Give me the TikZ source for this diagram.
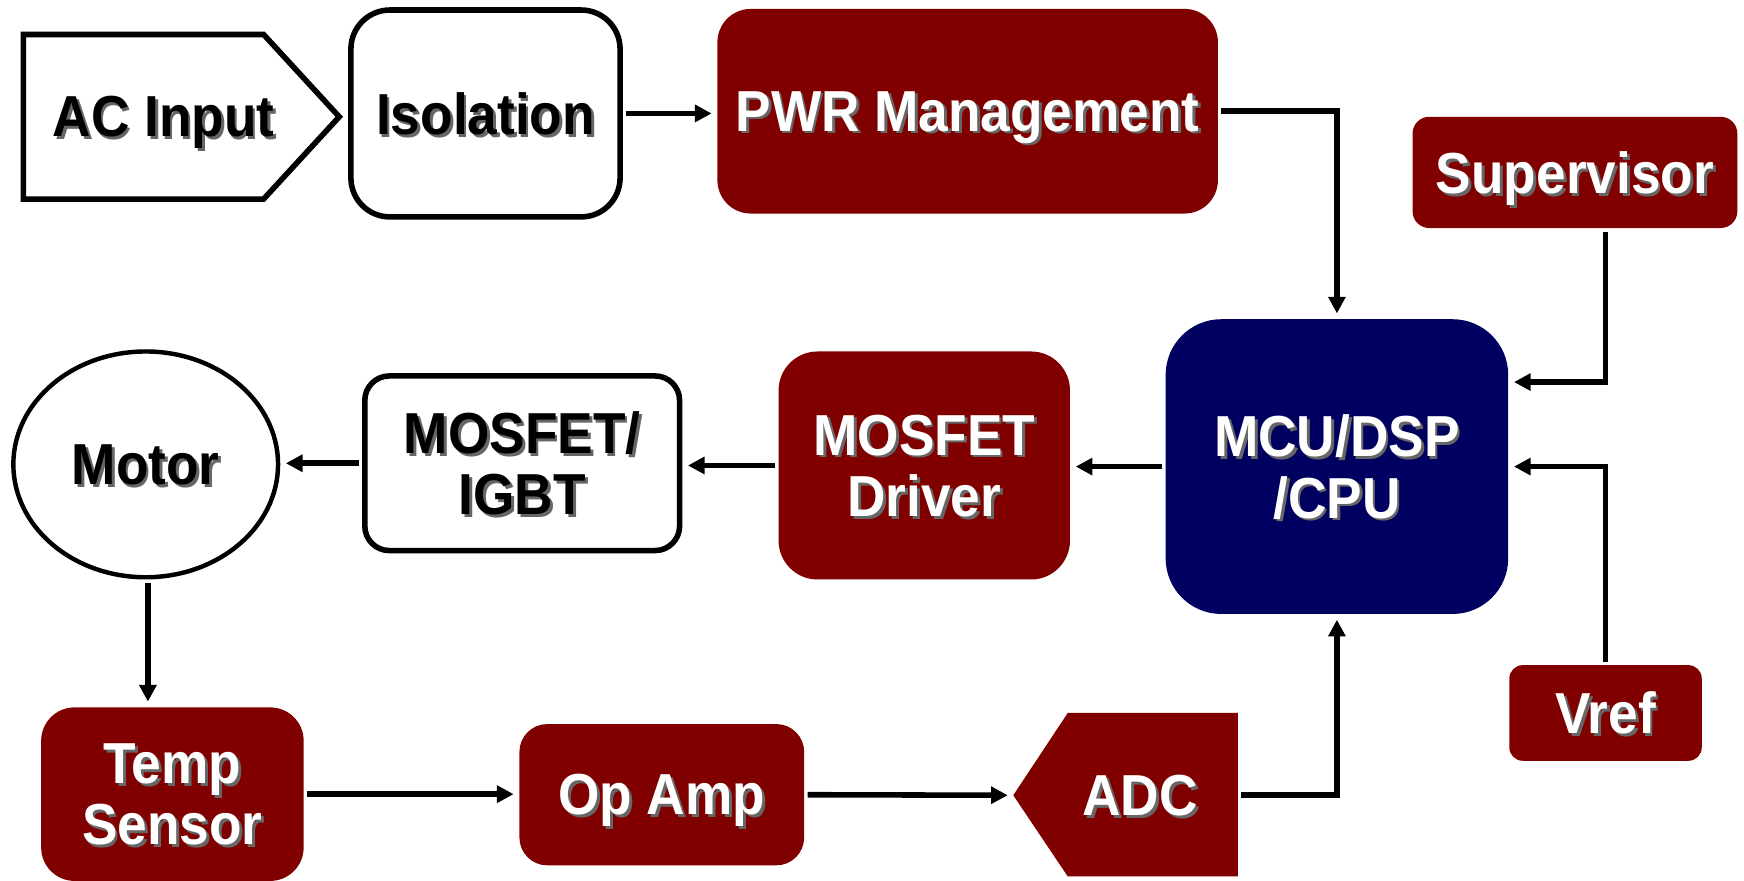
\documentclass[tikz,border=0pt]{standalone}
\usepackage{fontspec}
\setmainfont{Liberation Sans}[FakeStretch=0.92]
\usetikzlibrary{arrows.meta, shapes.geometric}
\usepackage{xcolor}
\definecolor{drvred}{HTML}{800000}
\definecolor{cpunavy}{HTML}{000060}
\newcommand{\shtxt}[1]{\makebox[0pt][l]{\kern2.5pt\raisebox{-2.5pt}{\textcolor{black!60}{#1}}}#1}

\begin{document}
\begin{tikzpicture}[x=1pt, y=-1pt,
    lbl/.style={font=\fontsize{52}{55}\selectfont\bfseries, align=center, inner sep=0pt, text depth=0pt},
    outline/.style={draw=black, line width=5pt, fill=white},
    openbox/.style={lbl, outline, rectangle, rounded corners=30pt},
    redbox/.style={lbl, rectangle, fill=drvred, text=white, rounded corners=30pt},
    cpubox/.style={lbl, rectangle, fill=cpunavy, text=white, rounded corners=50pt},
    arrow/.style={-{Triangle[length=15pt, width=15pt]}, line width=5pt, draw=black, shorten <=3pt, shorten >=5pt}
  ]
  \useasboundingbox (0,0) rectangle (1568,792);

  % top row
  \draw[outline] (21,31) -- (237,31) -- (305,105) -- (237,179) -- (21,179) -- cycle;
  \node[lbl] (acin) at (147,105) {\shtxt{AC Input}};
  \node[openbox, rounded corners=35pt, minimum width=242pt, minimum height=186pt] (iso) at (436.5,102) {\shtxt{Isolation}};
  \node[redbox, minimum width=450pt, minimum height=184pt] (pwr) at (870,100) {\shtxt{PWR Management}};
  \node[redbox, rounded corners=15pt, minimum width=292pt, minimum height=100pt] (sup) at (1416,155) {\shtxt{Supervisor}};

  % middle row
  \node[cpubox, minimum width=308pt, minimum height=265pt] (mcu) at (1202,419.5) {\shtxt{MCU/DSP}\\\shtxt{/CPU}};
  \node[redbox, rounded corners=35pt, minimum width=262pt, minimum height=205pt] (drv) at (831,418.5) {\shtxt{MOSFET}\\\shtxt{Driver}};
  \node[openbox, rounded corners=22pt, minimum width=283pt, minimum height=157pt] (igbt) at (469.5,416.5) {\shtxt{MOSFET/}\\\shtxt{IGBT}};
  \node[lbl, outline, ellipse, line width=4pt, minimum width=238pt, minimum height=203pt] (motor) at (131,417.5) {\shtxt{Motor}};

  % bottom row
  \node[redbox, minimum width=236pt, minimum height=156pt] (temp) at (155,714) {\shtxt{Temp}\\\shtxt{Sensor}};
  \node[redbox, rounded corners=25pt, minimum width=256pt, minimum height=127pt] (opamp) at (595,714.5) {\shtxt{Op Amp}};
  \fill[drvred] (911,715) -- (960,641) -- (1113,641) -- (1113,788) -- (960,788) -- cycle;
  \node[lbl, text=white] (adc) at (1025,715) {\shtxt{ADC}};
  \coordinate (adcin) at (911,715);
  \coordinate (adcout) at (1113,715);
  \node[redbox, rounded corners=12pt, minimum width=173pt, minimum height=86pt] (vref) at (1443.5,641) {\shtxt{Vref}};

  \draw[arrow] (iso.east) -- (iso.east -| pwr.west);
  \draw[arrow] (pwr.east) -| (mcu.north);
  \draw[arrow] (sup.south -| vref.north) |- ([yshift=76pt]mcu.east);
  \draw[arrow] (vref.north) |- (mcu.east);
  \draw[arrow] (mcu.west) -- (mcu.west -| drv.east);
  \draw[arrow] (drv.west) -- (drv.west -| igbt.east);
  \draw[arrow] (igbt.west) -- (igbt.west -| motor.east);
  \draw[arrow] ([xshift=2pt]motor.south) -- ([xshift=2pt]motor.south |- temp.north);
  \draw[arrow] (temp.east) -- (temp.east -| opamp.west);
  \draw[arrow] (opamp.east) -- (adcin);
  \draw[arrow] (adcout) -| (mcu.south);
\end{tikzpicture}
\end{document}
